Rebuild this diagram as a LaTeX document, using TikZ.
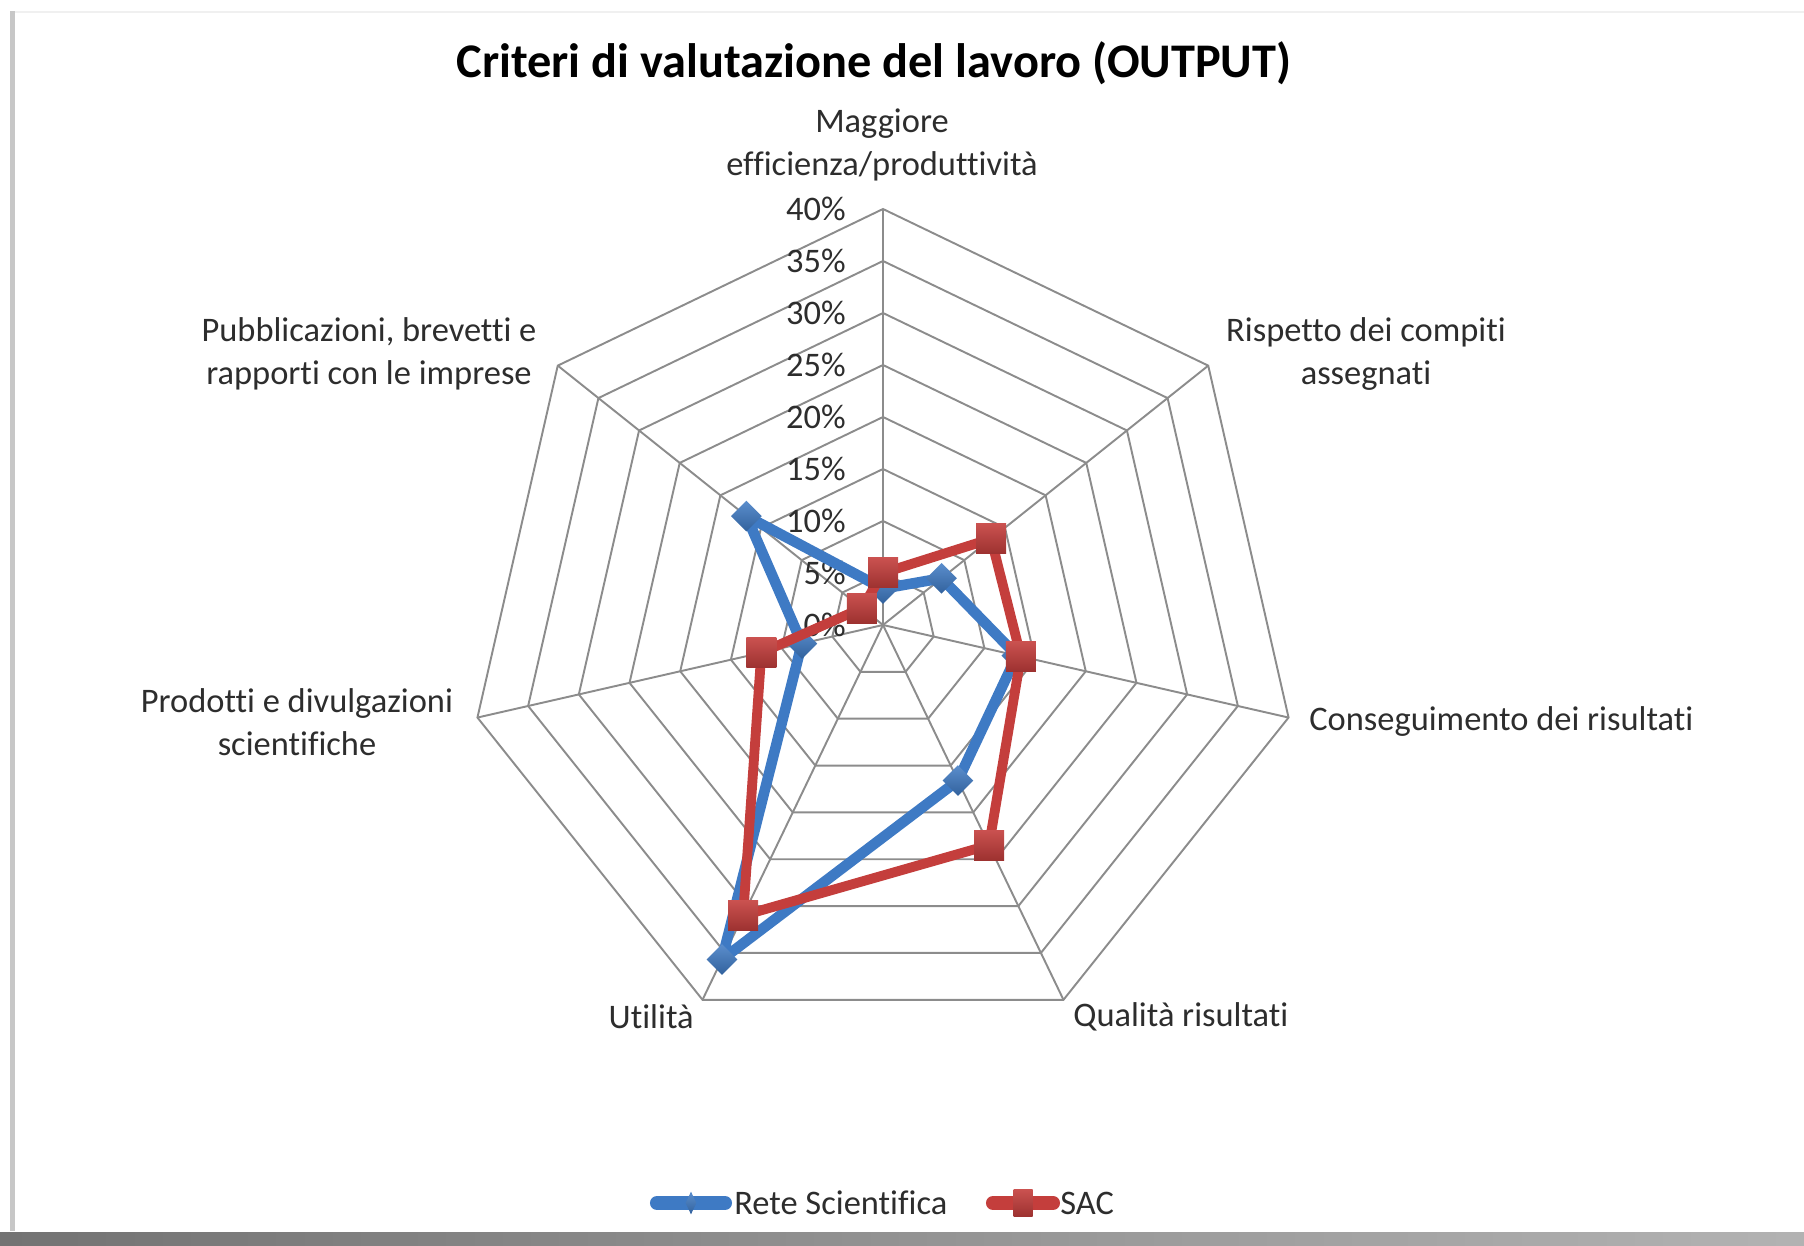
\documentclass[tikz,border=0pt]{standalone}
\usepackage{fontspec}
\setmainfont{Carlito}[Ligatures={NoCommon}]
\usetikzlibrary{shapes.geometric,calc}

\definecolor{reteblue}{RGB}{62,122,196}
\definecolor{sacred}{RGB}{196,62,60}
\definecolor{gridgray}{RGB}{140,140,140}
\definecolor{labelgray}{RGB}{45,45,45}

\begin{document}
\begin{tikzpicture}[x=0.02cm,y=0.02cm,
  grid line/.style={draw=gridgray,line width=1.1pt},
  axis label/.style={font=\fontsize{19.6}{24.8}\selectfont,text=labelgray,inner sep=0pt,align=center},
  tick label/.style={font=\fontsize{19.6}{24.8}\selectfont,text=labelgray,inner sep=0pt,anchor=east},
  rete line/.style={draw=reteblue,line width=6pt,line join=round},
  sac line/.style={draw=sacred,line width=5.6pt,line join=round},
  rete mark/.style={diamond,top color=reteblue!85!white,bottom color=reteblue!80!black,
    draw=none,minimum width=0.62cm,minimum height=0.62cm,inner sep=0pt},
  sac mark/.style={rectangle,top color=sacred!90!white,bottom color=sacred!80!black,
    draw=none,minimum size=0.6cm,inner sep=0pt}]
\useasboundingbox (-883,625) rectangle (921,-621);

% frame and shadow
\fill[black!6] (-873,614) rectangle (921,612);
\fill[black!22] (-873,614) rectangle (-868,-606);
\shade[left color=black!55,right color=black!30] (-883,-607) rectangle (921,-621);

% title
\node[font=\fontsize{27.5}{33}\selectfont\bfseries,inner sep=0pt] (title) at (-9,562)
  {Criteri di valutazione del lavoro (OUTPUT)};

% radar grid
\foreach \k in {1,...,8}
  \draw[grid line] (90:{\k*52}) \foreach \a in {1,...,6}{ -- ({90-\a*360/7}:{\k*52})} -- cycle;
\foreach \a in {0,...,6}{
  \coordinate (ax\a) at ({90-\a*360/7}:416);
  \draw[grid line] (0,0) -- (ax\a);
}
\foreach \k in {0,...,8}
  \node[tick label] (tick\k) at (-37,{\k*52}) {\number\numexpr\k*5\relax\%};

% axis labels
\node[axis label] (lmag) at (-1,480) {Maggiore\\efficienza/produttività};
\node[axis label] (lris) at (483,271) {Rispetto dei compiti\\assegnati};
\node[axis label,anchor=west] (lcon) at (426,-97) {Conseguimento dei risultati};
\node[axis label,anchor=west] (lqua) at (190,-392) {Qualità risultati};
\node[axis label,anchor=east] (luti) at (-189,-392) {Utilità};
\node[axis label] (lpro) at (-586,-97) {Prodotti e divulgazioni\\scientifiche};
\node[axis label] (lpub) at (-514,271) {Pubblicazioni, brevetti e\\rapporti con le imprese};

% series: Rete Scientifica
\foreach \v [count=\i from 0] in {3.5,7.2,13.2,16.6,35.7,8,16.8}
  \coordinate (r\i) at ({90-\i*360/7}:{\v*10.4});
\draw[rete line] (r0) -- (r1) -- (r2) -- (r3) -- (r4) -- (r5) -- (r6) -- cycle;
\foreach \i in {0,...,6}
  \node[rete mark] (rm\i) at (r\i) {};

% series: SAC
\foreach \v [count=\i from 0] in {5,13.3,13.6,23.5,31,12,2.6}
  \coordinate (s\i) at ({90-\i*360/7}:{\v*10.4});
\draw[sac line] (s0) -- (s1) -- (s2) -- (s3) -- (s4) -- (s5) -- (s6) -- cycle;
\foreach \i in {0,...,6}
  \node[sac mark] (sm\i) at (s\i) {};

% legend
\coordinate (lgra) at (-226,-578);
\coordinate (lgrb) at (-158,-578);
\draw[reteblue,line width=8pt,line cap=round] (lgra) -- (lgrb);
\node[rete mark,minimum width=0.22cm,minimum height=0.46cm] (lgrm) at ($(lgra)!0.5!(lgrb)$) {};
\node[axis label,anchor=west] (lgrt) at (-149,-578) {Rete Scientifica};
\coordinate (lgsa) at (110,-578);
\coordinate (lgsb) at (170,-578);
\draw[sacred,line width=8pt,line cap=round] (lgsa) -- (lgsb);
\node[sac mark,minimum width=0.38cm,minimum height=0.54cm] (lgsm) at ($(lgsa)!0.5!(lgsb)$) {};
\node[axis label,anchor=west] (lgst) at (177,-578) {SAC};
\end{tikzpicture}
\end{document}
